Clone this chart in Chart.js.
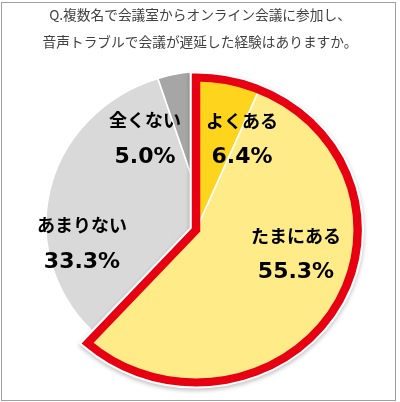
<!DOCTYPE html>
<html><head><meta charset="utf-8">
<script src="https://cdn.jsdelivr.net/npm/chart.js@4.4.1/dist/chart.umd.min.js"></script>
<style>html,body{margin:0;padding:0;background:#fff;}#wrap{width:400px;height:402px;}</style>
</head><body><div id="wrap"><canvas id="c" width="400" height="402"></canvas></div>
<script>
const titleLines = ['Q.複数名で会議室からオンライン会議に参加し、', '音声トラブルで会議が遅延した経験はありますか。'];
const categories = ['あまりない', '全くない', 'よくある', 'たまにある'];
const values = [33.3, 5.0, 6.4, 55.3];
const valueLabels = ['33.3%', '5.0%', '6.4%', '55.3%'];
const sliceColors = ['#D9D9D9', '#A6A6A6', '#FFD41C', '#FFEC88'];
const groupIndex = [2, 3];

// layout constants
const STRETCH = 1.06;
const GROUP_SHIFT = {dx: -11.3, dy: 6};
const GROUP_RADIUS = 152.5;
const TITLE_WIDTH = 315;
const labelPos = [[82, 225, 262], [145, 120, 157], [242, 121, 157], [296, 236, 272]];

const total = values.reduce((a, b) => a + b, 0);
const rotation = 360 - (values[0] + values[1]) / total * 360;

const custom = {
  id: 'custom',
  afterDatasetUpdate(chart, args) {
    const meta = args.meta;
    groupIndex.forEach(i => {
      const a = meta.data[i];
      a.x += GROUP_SHIFT.dx;
      a.y += GROUP_SHIFT.dy;
      a.outerRadius = GROUP_RADIUS;
    });
  },
  beforeDatasetsDraw(chart) {
    const ctx = chart.ctx;
    const ca = chart.chartArea;
    const cx = (ca.left + ca.right) / 2;
    ctx.save();
    ctx.translate(cx, 0);
    ctx.scale(STRETCH, 1);
    ctx.translate(-cx, 0);
  },
  afterDatasetsDraw(chart) {
    const ctx = chart.ctx;
    const meta = chart.getDatasetMeta(0);
    const a0 = meta.data[groupIndex[0]];
    const a1 = meta.data[groupIndex[groupIndex.length - 1]];
    const path = () => {
      ctx.moveTo(a0.x, a0.y);
      ctx.arc(a0.x, a0.y, a0.outerRadius, a0.startAngle, a1.endAngle);
      ctx.closePath();
    };
    ctx.save();
    ctx.beginPath();
    ctx.rect(-200, -200, 800, 800);
    path();
    ctx.clip('evenodd');
    ctx.beginPath(); path();
    ctx.shadowColor = 'rgba(0,0,0,0.25)';
    ctx.shadowBlur = 4; ctx.shadowOffsetY = 2;
    ctx.lineWidth = 12; ctx.strokeStyle = '#ffffff'; ctx.lineJoin = 'miter';
    ctx.stroke();
    ctx.restore();
    ctx.beginPath(); path();
    ctx.lineWidth = 8; ctx.strokeStyle = '#E60012'; ctx.lineJoin = 'miter';
    ctx.stroke();
    ctx.restore();
  },
  afterDraw(chart) {
    const ctx = chart.ctx;
    ctx.save();
    ctx.strokeStyle = '#a0a0a0'; ctx.lineWidth = 1;
    ctx.strokeRect(1.5, 2.5, 394, 398);
    ctx.font = '14px "Noto Sans CJK JP"';
    const w = ctx.measureText(titleLines[1]).width;
    const fs = 14 * TITLE_WIDTH / w;
    ctx.fillStyle = '#404040';
    ctx.font = fs.toFixed(2) + 'px "Noto Sans CJK JP"';
    ctx.textAlign = 'center'; ctx.textBaseline = 'middle';
    ctx.fillText(titleLines[0], 200, 15);
    ctx.fillText(titleLines[1], 200, 42);
    ctx.fillStyle = '#000000';
    categories.forEach((c, i) => {
      const p = labelPos[i];
      ctx.font = 'bold 18px "Noto Sans CJK JP"';
      ctx.fillText(c, p[0], p[1]);
      ctx.font = 'bold 22px "DejaVu Sans"';
      ctx.fillText(valueLabels[i], p[0], p[2]);
    });
    ctx.restore();
  }
};

new Chart(document.getElementById('c'), {
  type: 'pie',
  data: {
    labels: categories,
    datasets: [{
      data: values,
      backgroundColor: sliceColors,
      borderColor: '#ffffff',
      borderWidth: 1.5
    }]
  },
  options: {
    responsive: false,
    animation: false,
    rotation: rotation,
    layout: {padding: {left: 54.25, right: 38.25, top: 70.25, bottom: 24.25}},
    plugins: {legend: {display: false}, tooltip: {enabled: false}, title: {display: false}}
  },
  plugins: [custom]
});
</script>
</body></html>
